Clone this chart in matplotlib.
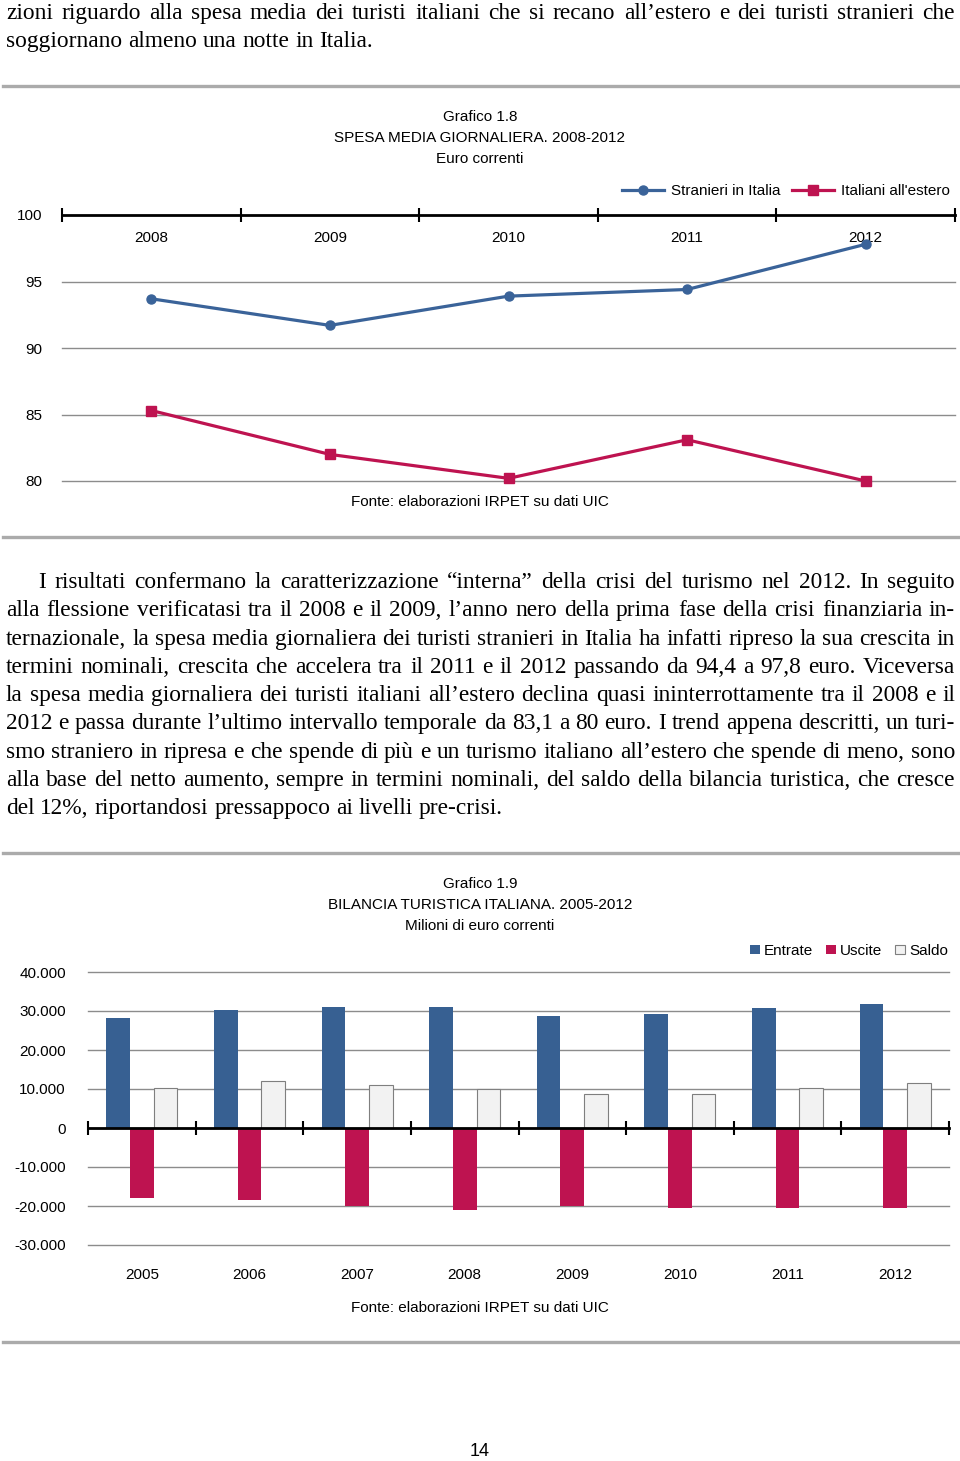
import matplotlib
matplotlib.use('Agg')
import matplotlib.pyplot as plt
from matplotlib.lines import Line2D
from matplotlib.font_manager import FontProperties
import numpy as np

# dati grafico 1.8 (euro correnti)
anni_spesa = ['2008', '2009', '2010', '2011', '2012']
stranieri = [93.7, 91.7, 93.9, 94.4, 97.8]
italiani = [85.3, 82.0, 80.2, 83.1, 80.0]

# dati grafico 1.9 (milioni di euro)
anni_bil = ['2005', '2006', '2007', '2008', '2009', '2010', '2011', '2012']
entrate = [28300, 30200, 30950, 30950, 28700, 29150, 30700, 31900]
uscite = [-18000, -18450, -19900, -21000, -20000, -20450, -20600, -20500]
saldo = [10350, 11950, 11050, 10100, 8700, 8700, 10150, 11450]

testo_sopra = [
    "zioni riguardo alla spesa media dei turisti italiani che si recano all\u2019estero e dei turisti stranieri che",
    "soggiornano almeno una notte in Italia.",
]
paragrafo = [
    "I risultati confermano la caratterizzazione \u201cinterna\u201d della crisi del turismo nel 2012. In seguito",
    "alla flessione verificatasi tra il 2008 e il 2009, l\u2019anno nero della prima fase della crisi finanziaria in-",
    "ternazionale, la spesa media giornaliera dei turisti stranieri in Italia ha infatti ripreso la sua crescita in",
    "termini nominali, crescita che accelera tra il 2011 e il 2012 passando da 94,4 a 97,8 euro. Viceversa",
    "la spesa media giornaliera dei turisti italiani all\u2019estero declina quasi ininterrottamente tra il 2008 e il",
    "2012 e passa durante l\u2019ultimo intervallo temporale da 83,1 a 80 euro. I trend appena descritti, un turi-",
    "smo straniero in ripresa e che spende di pi\u00f9 e un turismo italiano all\u2019estero che spende di meno, sono",
    "alla base del netto aumento, sempre in termini nominali, del saldo della bilancia turistica, che cresce",
    "del 12%, riportandosi pressappoco ai livelli pre-crisi.",
]

W, H = 960, 1461
BLU = '#3a6399'
BLU_BAR = '#376092'
ROSSO = '#be1350'
GRIGIO = '#8c8c8c'

plt.rcParams['font.family'] = ['Liberation Sans', 'DejaVu Sans']
FS = 11


def fx(x):
    return x / W


def fy(y):
    return 1 - y / H


fig = plt.figure(figsize=(W / 100, H / 100), dpi=100)
renderer = fig.canvas.get_renderer()

# font del corpo: scala per far tornare la larghezza dell'ultima riga
serif = FontProperties(family='Liberation Serif', size=16)
w_ref = renderer.get_text_width_height_descent(paragrafo[-1], serif, ismath=False)[0]
serif.set_size(16 * 496 / w_ref)


def riga(text, x0, x1, yb, giustifica=True):
    words = text.split(' ')
    widths = [renderer.get_text_width_height_descent(w, serif, ismath=False)[0] for w in words]
    if giustifica and len(words) > 1:
        gap = (x1 - x0 - sum(widths)) / (len(words) - 1)
    else:
        gap = renderer.get_text_width_height_descent('a a', serif, ismath=False)[0] - \
            2 * renderer.get_text_width_height_descent('a', serif, ismath=False)[0]
    x = x0
    for w, wd in zip(words, widths):
        fig.text(fx(x), fy(yb), w, fontproperties=serif, ha='left', va='baseline')
        x += wd + gap


riga(testo_sopra[0], 6, 955, 19)
riga(testo_sopra[1], 6, 955, 47, giustifica=False)
centri = [581, 609, 638, 666, 694, 722, 751, 779, 807]
for i, (t, c) in enumerate(zip(paragrafo, centri)):
    x0 = 38 if i == 0 else 6
    riga(t, x0, 955, c + 7, giustifica=(i < len(paragrafo) - 1))

# linee separatrici grigie
for y in [86, 537, 853, 1342]:
    fig.add_artist(Line2D([fx(3), fx(958)], [fy(y), fy(y)], color='#ababab', lw=2.4))

# ---------- Grafico 1.8 ----------
for t, y in zip(['Grafico 1.8', 'SPESA MEDIA GIORNALIERA. 2008-2012', 'Euro correnti'], [117, 138, 159]):
    fig.text(0.5, fy(y), t, ha='center', va='center', fontsize=FS)
fig.text(0.5, fy(502), 'Fonte: elaborazioni IRPET su dati UIC', ha='center', va='center', fontsize=FS)

ax1 = fig.add_axes([fx(62), fy(481), fx(955) - fx(62), fy(215) - fy(481)])
x1 = np.arange(len(anni_spesa))
ax1.plot(x1, stranieri, color=BLU, lw=2.3, marker='o', ms=6.5, label='Stranieri in Italia', zorder=4, clip_on=False)
ax1.plot(x1, italiani, color=ROSSO, lw=2.3, marker='s', ms=6.5, label="Italiani all'estero", zorder=4, clip_on=False)
ax1.set_xlim(-0.5, 4.5)
ax1.set_ylim(80, 100)
ax1.set_yticks([80, 85, 90, 95, 100])
for v in [80, 85, 90, 95]:
    ax1.axhline(v, color=GRIGIO, lw=1, zorder=0, clip_on=False)
for s in ['left', 'right', 'bottom']:
    ax1.spines[s].set_visible(False)
ax1.spines['top'].set_color('black')
ax1.spines['top'].set_linewidth(2)
ax1.xaxis.set_ticks_position('top')
ax1.set_xticks(np.arange(-0.5, 5, 1))
ax1.set_xticklabels([])
ax1.tick_params(axis='x', direction='inout', length=10, width=1.5)
ax1.tick_params(axis='y', length=0, pad=14, labelsize=FS)
for i, a in enumerate(anni_spesa):
    ax1.text(i, 1 - 23 / 266, a, transform=ax1.get_xaxis_transform(), ha='center', va='center',
             fontsize=FS, zorder=1)
ax1.legend(loc='center right', bbox_to_anchor=(fx(950), fy(191)), bbox_transform=fig.transFigure,
           ncol=2, frameon=False, handlelength=2.75, handletextpad=0.45, columnspacing=0.8,
           borderaxespad=0, borderpad=0, fontsize=FS)

# ---------- Grafico 1.9 ----------
for t, y in zip(['Grafico 1.9', 'BILANCIA TURISTICA ITALIANA. 2005-2012', 'Milioni di euro correnti'],
                [884, 905, 926]):
    fig.text(0.5, fy(y), t, ha='center', va='center', fontsize=FS)
fig.text(0.5, fy(1308), 'Fonte: elaborazioni IRPET su dati UIC', ha='center', va='center', fontsize=FS)

ax2 = fig.add_axes([fx(88), fy(1245), fx(949) - fx(88), fy(972) - fy(1245)])
x2 = np.arange(len(anni_bil))
bw = 0.22
ax2.bar(x2 - bw, entrate, bw, color=BLU_BAR, label='Entrate', zorder=2)
ax2.bar(x2, uscite, bw, color=ROSSO, label='Uscite', zorder=2)
ax2.bar(x2 + bw, saldo, bw, color='#f2f2f2', edgecolor='#7f7f7f', lw=0.8, label='Saldo', zorder=2)
ax2.set_xlim(-0.5, 7.5)
ax2.set_ylim(-30000, 40000)
ax2.set_yticks(range(-30000, 40001, 10000))
ax2.set_yticklabels([f'{v:,.0f}'.replace(',', '.') for v in range(-30000, 40001, 10000)])
ax2.yaxis.grid(True, color=GRIGIO, lw=1)
for gl in ax2.get_ygridlines():
    gl.set_clip_on(False)
ax2.set_axisbelow(True)
for s in ['left', 'right', 'top']:
    ax2.spines[s].set_visible(False)
ax2.spines['bottom'].set_position(('data', 0))
ax2.spines['bottom'].set_linewidth(2)
ax2.spines['bottom'].set_zorder(3)
ax2.set_xticks(np.arange(-0.5, 8, 1))
ax2.set_xticklabels([])
ax2.tick_params(axis='x', direction='inout', length=10, width=1.5)
ax2.tick_params(axis='y', length=0, pad=16, labelsize=FS)
for i, a in enumerate(anni_bil):
    ax2.text(i, -30 / 273, a, transform=ax2.get_xaxis_transform(), ha='center', va='center', fontsize=FS)
ax2.legend(loc='center right', bbox_to_anchor=(fx(948), fy(951)), bbox_transform=fig.transFigure,
           ncol=3, frameon=False, handlelength=0.6, handleheight=0.6, handletextpad=0.3,
           columnspacing=0.85, borderaxespad=0, borderpad=0, fontsize=FS)

fig.text(0.5, fy(1452), '14', ha='center', va='center', fontsize=13)

fig.savefig('out.png', dpi=100)
